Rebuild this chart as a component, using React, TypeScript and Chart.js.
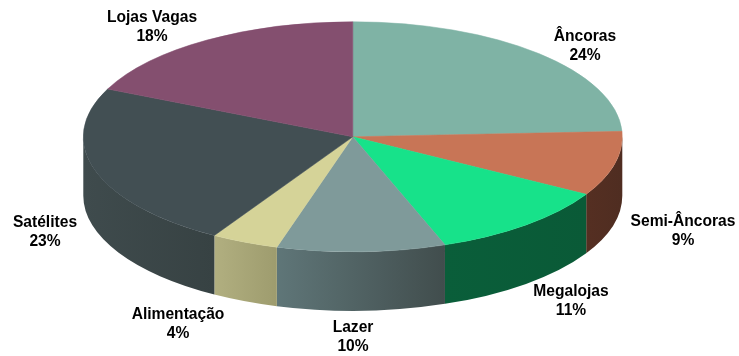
import React, { useEffect, useRef } from "react";
import { Chart, registerables } from "chart.js";

Chart.register(...registerables);

const categories = ["Âncoras", "Semi-Âncoras", "Megalojas", "Lazer", "Alimentação", "Satélites", "Lojas Vagas"];
const shares = [24, 9, 11, 10, 4, 23, 18];
const topColors = ["#7fb3a5", "#c87556", "#17e28a", "#7f9a9a", "#d5d398", "#424f53", "#844f6f"];
const wallFrom = ["#3f5a52", "#552f22", "#0a5e3a", "#5f7678", "#b1af80", "#3f4b4d", "#42283a"];
const wallTo = ["#3f5a52", "#4f2d21", "#0a5a37", "#414d4d", "#9e9c6e", "#374243", "#42283a"];
const labelAnchors: [number, number][] = [
  [585, 37], [683, 222], [571, 292], [353, 328], [178, 315], [45, 223], [152, 18],
];

// Footprint of the tilted disc on the canvas.
const DISC = { cx: 352.8, cy: 136.8, rx: 269.5, ry: 115, depth: 59 };

const tiltedPie = {
  id: "tiltedPie",
  beforeDatasetsDraw(chart: any) {
    const { ctx } = chart;
    const arcs = chart.getDatasetMeta(0).data;
    const { cx, cy, rx, ry, depth } = DISC;
    // Side wall: only the part of each slice facing the viewer.
    arcs.forEach((arc: any, i: number) => {
      const lo = Math.max(arc.startAngle, 0);
      const hi = Math.min(arc.endAngle, Math.PI);
      if (lo >= hi) return;
      const grad = ctx.createLinearGradient(cx + rx * Math.cos(hi), 0, cx + rx * Math.cos(lo), 0);
      grad.addColorStop(0, wallFrom[i]);
      grad.addColorStop(1, wallTo[i]);
      ctx.beginPath();
      ctx.ellipse(cx, cy, rx, ry, 0, lo, hi);
      ctx.ellipse(cx, cy + depth, rx, ry, 0, hi, lo, true);
      ctx.closePath();
      ctx.fillStyle = grad;
      ctx.fill();
    });
    // The library's arcs are then squashed onto the top face.
    const { x, y, outerRadius } = arcs[0];
    ctx.save();
    ctx.translate(cx, cy);
    ctx.scale(rx / outerRadius, ry / outerRadius);
    ctx.translate(-x, -y);
  },
  afterDatasetsDraw(chart: any) {
    const { ctx } = chart;
    ctx.restore();
    ctx.save();
    ctx.fillStyle = "#000";
    ctx.font = 'bold 15.6px "Liberation Sans", Arial, sans-serif';
    ctx.textAlign = "center";
    ctx.textBaseline = "middle";
    categories.forEach((name, i) => {
      const [lx, ly] = labelAnchors[i];
      ctx.fillText(name, lx, ly);
      ctx.fillText(`${shares[i]}%`, lx, ly + 18.5);
    });
    ctx.restore();
  },
};

export default function App() {
  const canvasRef = useRef<HTMLCanvasElement>(null);

  useEffect(() => {
    const chart = new Chart(canvasRef.current!, {
      type: "pie",
      data: {
        labels: categories,
        datasets: [
          {
            data: shares,
            backgroundColor: topColors,
            borderColor: topColors,
            borderWidth: 0.5,
            clip: false,
          } as any,
        ],
      },
      options: {
        animation: false,
        responsive: false,
        plugins: { legend: { display: false }, tooltip: { enabled: false } },
      },
      plugins: [tiltedPie],
    });
    return () => chart.destroy();
  }, []);

  return (
    <div style={{ position: "absolute", left: 0, top: 0, background: "#fff" }}>
      <canvas ref={canvasRef} width={739} height={356} style={{ display: "block" }} />
    </div>
  );
}
